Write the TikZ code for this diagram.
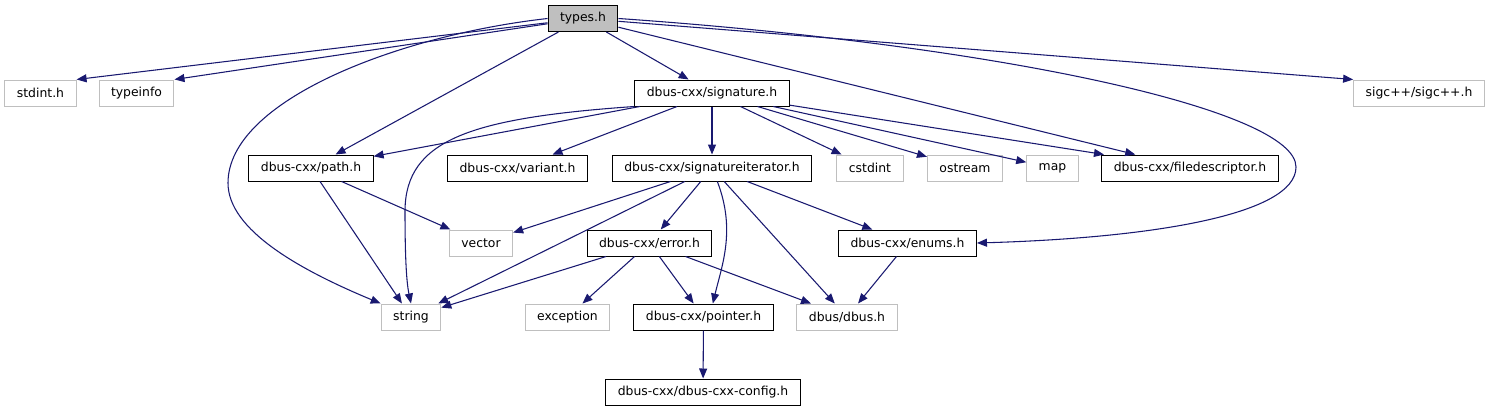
\documentclass[tikz,border=0pt]{standalone}
\usepackage{fontspec}
\setmainfont{DejaVu Sans}
\usepackage{tikz}
\usetikzlibrary{arrows.meta}
\definecolor{depline}{RGB}{25,25,112}
\definecolor{extgray}{RGB}{191,191,191}
\definecolor{curfill}{RGB}{191,191,191}

\begin{document}
\begin{tikzpicture}[x=0.75pt,y=-0.75pt,>={Triangle[length=7.5pt,width=6pt]},
  file/.style={draw=black,line width=0.75pt,inner xsep=9pt,inner ysep=0pt,minimum height=19.5pt,font=\fontsize{9.3}{11}\selectfont},
  sys/.style={file,draw=extgray},
  dep/.style={->,depline,line width=0.8pt}]
  \useasboundingbox (0,0) rectangle (1491,411);
  % row 0 and 1
  \node[file,fill=curfill] (types) at (583,18.5) {types.h};
  \node[sys] (stdint) at (40.5,93) {stdint.h};
  \node[sys] (typeinfo) at (136.5,93) {typeinfo};
  \node[file] (sig) at (712,93) {dbus-cxx/signature.h};
  \node[sys] (sigc) at (1419,93) {sigc++/sigc++.h};
  % row 2
  \node[file] (path) at (311,168) {dbus-cxx/path.h};
  \node[file] (variant) at (517.5,168) {dbus-cxx/variant.h};
  \node[file] (si) at (712,168) {dbus-cxx/signatureiterator.h};
  \node[sys] (cstdint) at (870,168) {cstdint};
  \node[sys] (ostream) at (965,168) {ostream};
  \node[sys] (map) at (1052.5,168) {map};
  \node[file] (fd) at (1190,168) {dbus-cxx/filedescriptor.h};
  % row 3 and 4
  \node[sys] (vector) at (481,243) {vector};
  \node[file] (error) at (649.5,243) {dbus-cxx/error.h};
  \node[file] (enums) at (907.5,243) {dbus-cxx/enums.h};
  \node[sys] (string) at (411,317) {string};
  \node[sys] (exception) at (567.5,317) {exception};
  \node[file] (pointer) at (703.5,317) {dbus-cxx/pointer.h};
  \node[sys] (dbus) at (847,317) {dbus/dbus.h};
  \node[file] (config) at (703,392) {dbus-cxx/dbus-cxx-config.h};
  % includes
  \foreach \a/\b in {types/stdint.north east,types/typeinfo.north east,types/path,types/sig,types/fd,types/sigc.north west,
    sig/path,sig/variant,sig/si,sig/cstdint,sig/ostream,sig/map,sig/fd,path/vector,path/string,
    si/vector,si/string,si/error,si/dbus,si/enums,error/string,error/exception,error/pointer,error/dbus,
    enums/dbus,pointer/config}
    \draw[dep] (\a) -- (\b);
  \draw[dep] (types.west) .. controls (400,35) and (228,100) .. (228,183) .. controls (228,230) and (300,270) .. (string.north west);
  \draw[dep] (sig.south west) .. controls (470,118) and (406,140) .. (405,210) .. controls (405,250) and (406,280) .. (string.north);
  \draw[dep] ([xshift=4pt]si.south) .. controls (736,230) and (722,265) .. ([xshift=7pt]pointer.north);
  \draw[dep] (types.east) .. controls (1000,45) and (1296,110) .. (1296,167) .. controls (1296,215) and (1150,238) .. (enums.east);
\end{tikzpicture}
\end{document}
